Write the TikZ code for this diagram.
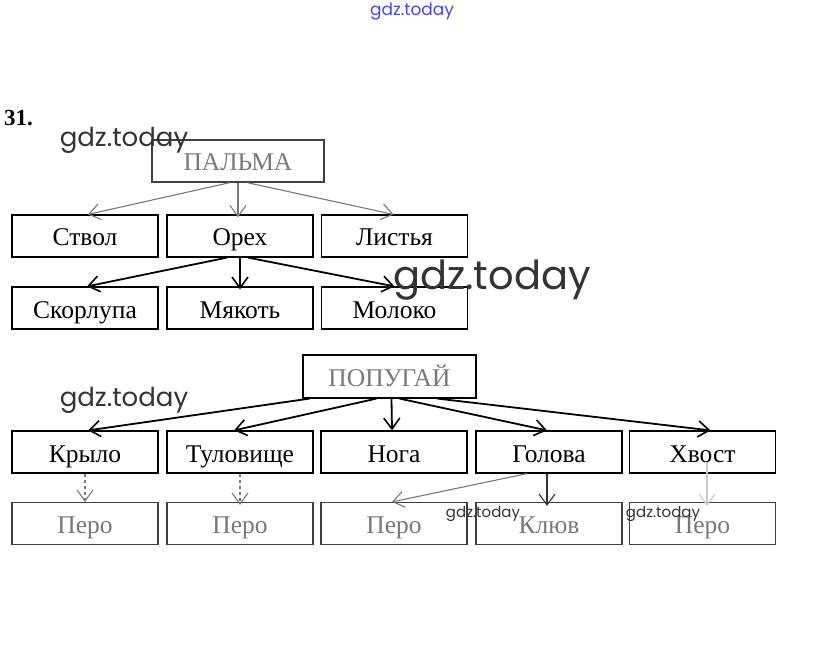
\documentclass[tikz,border=0pt]{standalone}
\usepackage{fontspec}
\setmainfont{Liberation Serif}
\newfontfamily\wmfont{Poppins}
\usetikzlibrary{arrows.meta}
\definecolor{fade}{RGB}{120,120,120}
\definecolor{wmblue}{RGB}{70,70,240}
\tikzset{
  box/.style={draw, line width=1.2pt, minimum width=146pt, minimum height=42pt, inner sep=0pt,
    font=\fontsize{25.5}{25.5}\selectfont, text height=20pt, text depth=0pt},
  fadebox/.style={box, draw=black!75, text=fade},
  arr/.style={line width=1.8pt, -{Straight Barb[length=11pt,width=16pt,line width=1.6pt]}},
  farr/.style={line width=1.1pt, draw=fade, -{Straight Barb[length=11pt,width=16pt,line width=1.1pt]}},
  wm/.style={font=\wmfont\fontsize{#1}{#1}\selectfont, text=black!80, inner sep=0pt},
}
\begin{document}
\begin{tikzpicture}[x=1pt,y=-1pt]
\useasboundingbox (0,0) rectangle (823,658);
\node[font=\bfseries\fontsize{23}{23}\selectfont, anchor=west, inner sep=0pt] (num) at (4,118) {31.};
% PALMA
\node[fadebox, minimum width=172pt] (palma) at (238,161) {ПАЛЬМА};
\node[box] (stvol) at (85,236) {Ствол};
\node[box] (orex) at (240,236) {Орех};
\node[box] (list) at (394.5,236) {Листья};
\node[box] (skor) at (85,308) {Скорлупа};
\node[box] (myak) at (240,308) {Мякоть};
\node[box] (molo) at (394.5,308) {Молоко};
\draw[farr] ([xshift=-8pt]palma.south) -- ([xshift=3pt]stvol.north);
\draw[farr] ([xshift=0pt]palma.south) -- ([xshift=-2pt,yshift=-3pt]orex.north);
\draw[farr] ([xshift=9pt]palma.south) -- ([xshift=-1pt]list.north);
\draw[arr] ([xshift=-13pt]orex.south) -- ([xshift=2pt]skor.north);
\draw[arr] (orex.south) -- ([yshift=-3pt]myak.north);
\draw[arr] ([xshift=8pt]orex.south) -- ([xshift=0pt]molo.north);
% POPUGAY
\node[box, minimum width=173pt, minimum height=43pt, text=fade] (pop) at (389.5,376.5) {ПОПУГАЙ};
\node[box] (kr) at (85,452) {Крыло};
\node[box] (tul) at (240,452) {Туловище};
\node[box] (noga) at (394,452) {Нога};
\node[box] (gol) at (549,452) {Голова};
\node[box] (hv) at (702.5,452) {Хвост};
\node[fadebox] (p1) at (85,523.5) {Перо};
\node[fadebox] (p2) at (240,523.5) {Перо};
\node[fadebox] (p3) at (394,523.5) {Перо};
\node[fadebox] (kl) at (549,523.5) {Клюв};
\node[fadebox] (p5) at (702.5,523.5) {Перо};
\draw[arr] ([xshift=-80pt]pop.south) -- ([xshift=3pt]kr.north);
\draw[arr] ([xshift=-13pt]pop.south) -- ([xshift=-6pt]tul.north);
\draw[arr] ([xshift=2pt]pop.south) -- ([xshift=-2pt]noga.north);
\draw[arr] ([xshift=10pt]pop.south) -- ([xshift=-2pt]gol.north);
\draw[arr] ([xshift=48pt]pop.south) -- ([xshift=8pt]hv.north);
\draw[farr, dashed] (kr.south) -- (p1.north);
\draw[farr, dashed] (tul.south) -- ([yshift=-3pt]p2.north);
\draw[farr] ([xshift=-22pt]gol.south) -- ([xshift=-2pt]p3.north);
\draw[farr, draw=black!80] ([xshift=-2pt]gol.south) -- ([xshift=-2pt,yshift=-4pt]kl.north);
\draw[farr, draw=fade!40] ([xshift=4.5pt,yshift=12pt]hv.south) -- ([xshift=4.5pt,yshift=-4pt]p5.north);
% watermarks
\node[wm=17, text=wmblue] (w0) at (412,12) {gdz.today};
\node[wm=26] (w1) at (124,140) {gdz.today};
\node[wm=40] (w2) at (492,280) {gdz.today};
\node[wm=26] (w3) at (124,400) {gdz.today};
\node[wm=15] (w4) at (483,514) {gdz.today};
\node[wm=15] (w5) at (663,514) {gdz.today};
\end{tikzpicture}
\end{document}
